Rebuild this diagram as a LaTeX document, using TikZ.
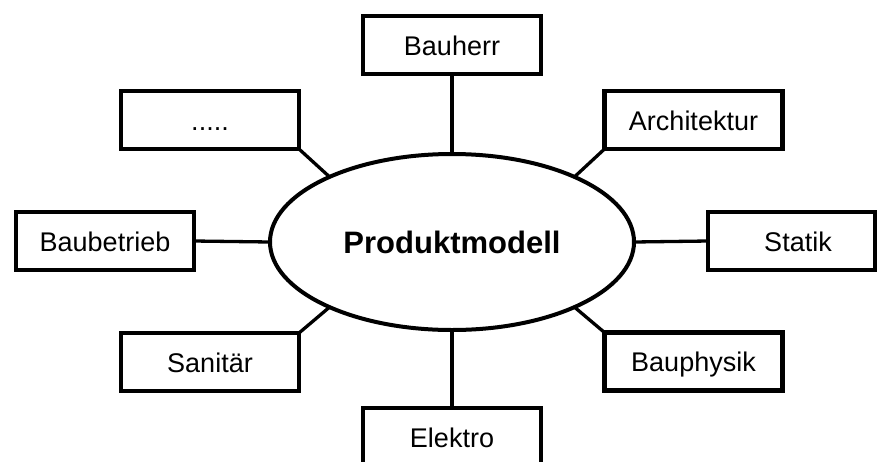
\documentclass[tikz,border=0pt]{standalone}
\usepackage{fontspec}
\setmainfont{Liberation Sans}
\usetikzlibrary{shapes.geometric}
\begin{document}
\begin{tikzpicture}[x=1pt,y=-1pt,
  fieldbox/.style={draw, line width=4.5pt, fill=white, inner sep=0pt, outer sep=0pt,
    text height=20pt, text depth=0pt,
    minimum width=178pt, minimum height=58pt, font=\fontsize{27}{31}\selectfont},
  core/.style={ellipse, draw, line width=4pt, inner sep=0pt, outer sep=0pt,
    minimum width=364pt, minimum height=176pt, font=\bfseries\fontsize{31}{36}\selectfont},
  link/.style={line width=3.3pt}]
  \useasboundingbox (0,0) rectangle (877,461);
  \clip (0,0) rectangle (877,461);

  % central product model
  \node[core] (pm) at (452,242) {Produktmodell};

  % discipline boxes around it
  \node[fieldbox] (bauherr) at (452,45) {Bauherr};
  \node[fieldbox] (dots) at (210,120) {.....};
  \node[fieldbox] (arch) at (693.5,120) {Architektur};
  \node[fieldbox] (betrieb) at (105,241) {Baubetrieb};
  \node[fieldbox, minimum width=167pt] (statik) at (791.5,241) {\hspace*{13pt}Statik};
  \node[fieldbox] (sanitaer) at (210,362) {Sanitär};
  \node[fieldbox] (physik) at (693.5,361.5) {Bauphysik};
  \node[fieldbox] (elektro) at (452,437) {Elektro};

  % connectors to the model
  \draw[link] (bauherr.south) -- (pm.north);
  \draw[link] (elektro.north) -- (pm.south);
  \draw[link] (betrieb.east) -- (pm.west);
  \draw[link] (statik.west) -- (pm.east);
  \draw[link] (dots.south east) -- (pm.152);
  \draw[link] (arch.south west) -- (pm.28);
  \draw[link] (sanitaer.north east) -- (pm.208);
  \draw[link] (physik.north west) -- (pm.332);
\end{tikzpicture}
\end{document}
